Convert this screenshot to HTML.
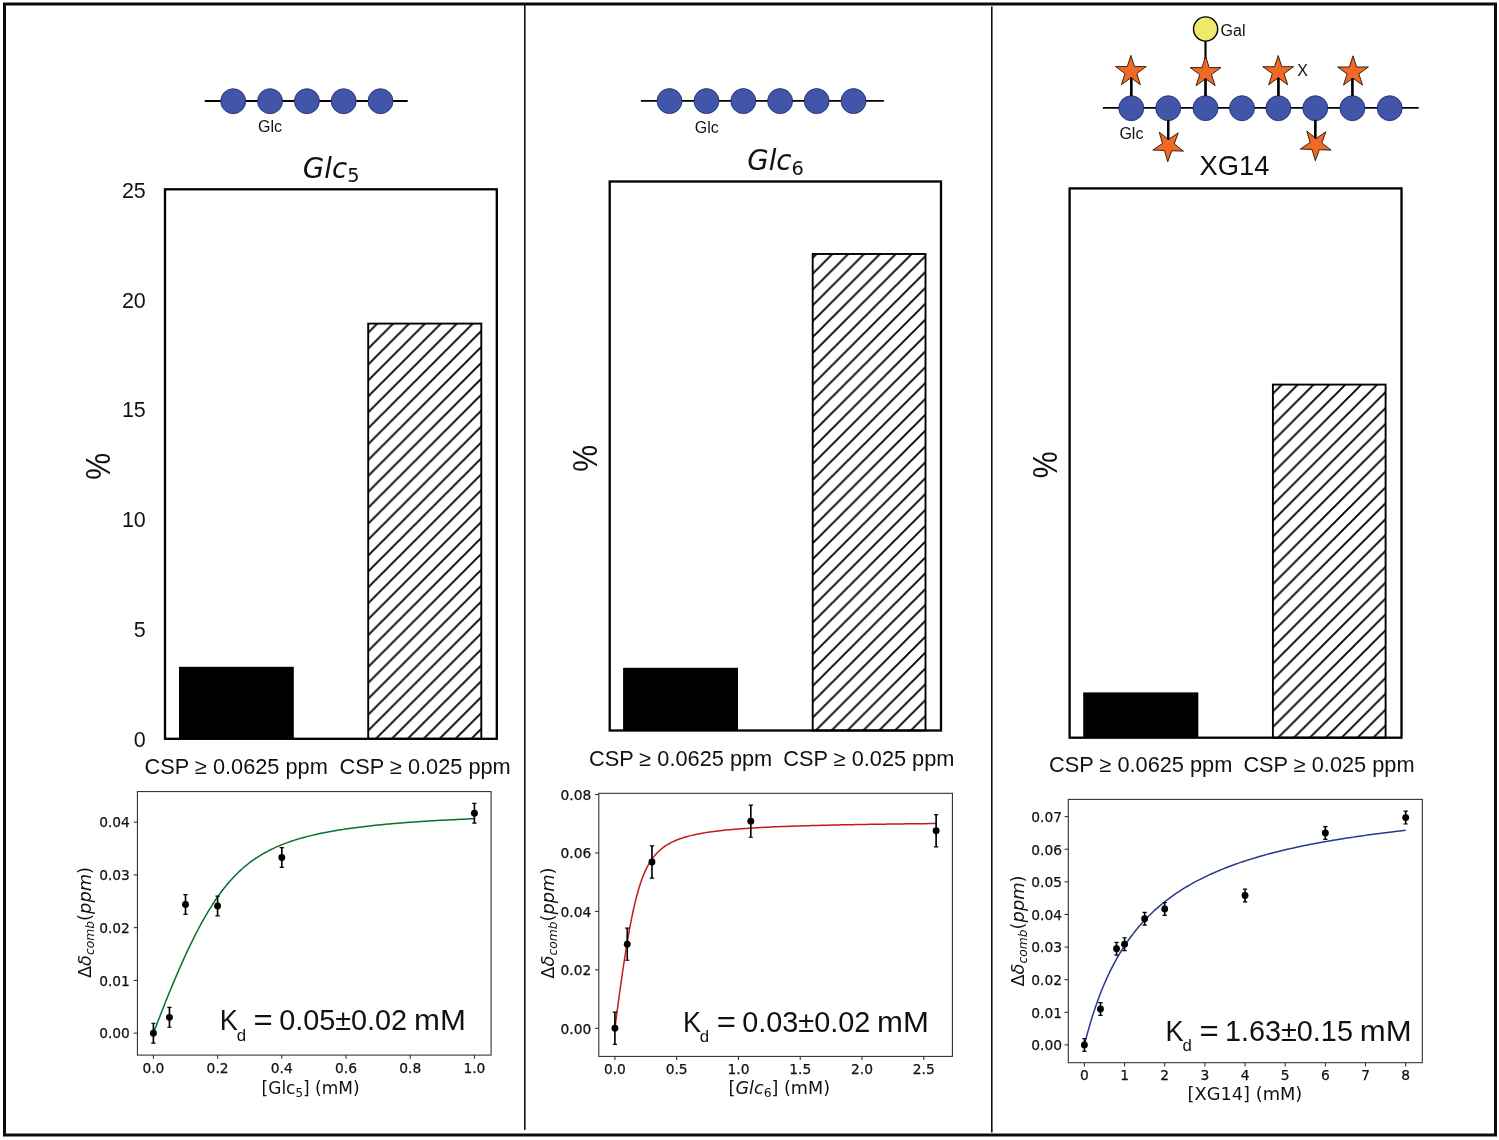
<!DOCTYPE html>
<html lang="en"><head><meta charset="utf-8"><title>Figure</title>
<style>
html,body{margin:0;padding:0;background:#fff;}
body{width:1499px;height:1140px;overflow:hidden;}
svg{display:block;will-change:transform;}
text{fill:#111;}
</style></head><body>
<svg width="1499" height="1140" viewBox="0 0 1499 1140">
<rect x="0" y="0" width="1499" height="1140" fill="#fff"/>
<defs>
<pattern id="h1" patternUnits="userSpaceOnUse" width="15.915" height="15.915" patternTransform="translate(0.64,0)"><path d="M-4,4 L4,-4 M-4,19.915 L19.915,-4 M11.915,19.915 L19.915,11.915" stroke="#000" stroke-width="1.9" fill="none"/></pattern>
<pattern id="h2" patternUnits="userSpaceOnUse" width="15.855" height="15.855" patternTransform="translate(8.26,0)"><path d="M-4,4 L4,-4 M-4,19.855 L19.855,-4 M11.855,19.855 L19.855,11.855" stroke="#000" stroke-width="1.9" fill="none"/></pattern>
<pattern id="h3" patternUnits="userSpaceOnUse" width="15.877" height="15.877" patternTransform="translate(15.292,0)"><path d="M-4,4 L4,-4 M-4,19.877 L19.877,-4 M11.877,19.877 L19.877,11.877" stroke="#000" stroke-width="1.9" fill="none"/></pattern>
</defs>

<rect x="4.5" y="4" width="1491" height="1131" fill="none" stroke="#0c0c0c" stroke-width="3"/>
<line x1="524.8" y1="5" x2="524.8" y2="1130" stroke="#111" stroke-width="1.6"/>
<line x1="991.8" y1="6.5" x2="991.8" y2="1132.5" stroke="#111" stroke-width="1.6"/>
<line x1="204.7" y1="101" x2="407.7" y2="101" stroke="#000" stroke-width="1.85"/>
<circle cx="233.2" cy="101.2" r="12.5" fill="#4156a9" stroke="#1b2767" stroke-width="0.8"/>
<circle cx="270.05" cy="101.2" r="12.5" fill="#4156a9" stroke="#1b2767" stroke-width="0.8"/>
<circle cx="306.9" cy="101.2" r="12.5" fill="#4156a9" stroke="#1b2767" stroke-width="0.8"/>
<circle cx="343.7" cy="101.2" r="12.5" fill="#4156a9" stroke="#1b2767" stroke-width="0.8"/>
<circle cx="380.5" cy="101.2" r="12.5" fill="#4156a9" stroke="#1b2767" stroke-width="0.8"/>
<text x="258.1" y="131.6" font-family='"Liberation Sans", Arial, Helvetica, sans-serif' font-size="16" text-anchor="start" >Glc</text>
<line x1="640.9" y1="100.8" x2="883.9" y2="100.8" stroke="#000" stroke-width="1.85"/>
<circle cx="669.5" cy="101.1" r="12.5" fill="#4156a9" stroke="#1b2767" stroke-width="0.8"/>
<circle cx="706.5" cy="101.1" r="12.5" fill="#4156a9" stroke="#1b2767" stroke-width="0.8"/>
<circle cx="743.3" cy="101.1" r="12.5" fill="#4156a9" stroke="#1b2767" stroke-width="0.8"/>
<circle cx="780.1" cy="101.1" r="12.5" fill="#4156a9" stroke="#1b2767" stroke-width="0.8"/>
<circle cx="816.7" cy="101.1" r="12.5" fill="#4156a9" stroke="#1b2767" stroke-width="0.8"/>
<circle cx="853.5" cy="101.1" r="12.5" fill="#4156a9" stroke="#1b2767" stroke-width="0.8"/>
<text x="694.7" y="132.5" font-family='"Liberation Sans", Arial, Helvetica, sans-serif' font-size="16" text-anchor="start" >Glc</text>
<line x1="1102.8" y1="107.8" x2="1418.7" y2="107.8" stroke="#000" stroke-width="1.85"/>
<line x1="1131.3" y1="74" x2="1131.3" y2="100" stroke="#000" stroke-width="2.2"/>
<line x1="1205.5" y1="74" x2="1205.5" y2="100" stroke="#000" stroke-width="2.2"/>
<line x1="1278.4" y1="74" x2="1278.4" y2="100" stroke="#000" stroke-width="2.2"/>
<line x1="1352.4" y1="74" x2="1352.4" y2="100" stroke="#000" stroke-width="2.2"/>
<line x1="1205.5" y1="40" x2="1205.5" y2="60" stroke="#000" stroke-width="2.2"/>
<line x1="1168.2" y1="116" x2="1168.2" y2="141" stroke="#000" stroke-width="2.2"/>
<line x1="1315.3" y1="116" x2="1315.3" y2="141" stroke="#000" stroke-width="2.2"/>
<circle cx="1131.3" cy="108.2" r="12.5" fill="#4156a9" stroke="#1b2767" stroke-width="0.8"/>
<circle cx="1168.2" cy="108.2" r="12.5" fill="#4156a9" stroke="#1b2767" stroke-width="0.8"/>
<circle cx="1205.5" cy="108.2" r="12.5" fill="#4156a9" stroke="#1b2767" stroke-width="0.8"/>
<circle cx="1242" cy="108.2" r="12.5" fill="#4156a9" stroke="#1b2767" stroke-width="0.8"/>
<circle cx="1278.4" cy="108.2" r="12.5" fill="#4156a9" stroke="#1b2767" stroke-width="0.8"/>
<circle cx="1315.3" cy="108.2" r="12.5" fill="#4156a9" stroke="#1b2767" stroke-width="0.8"/>
<circle cx="1352.4" cy="108.2" r="12.5" fill="#4156a9" stroke="#1b2767" stroke-width="0.8"/>
<circle cx="1389.7" cy="108.2" r="12.5" fill="#4156a9" stroke="#1b2767" stroke-width="0.8"/>
<polygon points="1130.9,55.4 1134.54,66.59 1146.31,66.59 1136.79,73.51 1140.42,84.71 1130.9,77.79 1121.38,84.71 1125.01,73.51 1115.49,66.59 1127.26,66.59" fill="#ee6a25" stroke="#2a1206" stroke-width="0.9" stroke-linejoin="miter"/>
<polygon points="1205.6,56.4 1209.24,67.59 1221.01,67.59 1211.49,74.51 1215.12,85.71 1205.6,78.79 1196.08,85.71 1199.71,74.51 1190.19,67.59 1201.96,67.59" fill="#ee6a25" stroke="#2a1206" stroke-width="0.9" stroke-linejoin="miter"/>
<polygon points="1278.2,55.5 1281.84,66.69 1293.61,66.69 1284.09,73.61 1287.72,84.81 1278.2,77.89 1268.68,84.81 1272.31,73.61 1262.79,66.69 1274.56,66.69" fill="#ee6a25" stroke="#2a1206" stroke-width="0.9" stroke-linejoin="miter"/>
<polygon points="1353,55.8 1356.64,66.99 1368.41,66.99 1358.89,73.91 1362.52,85.11 1353,78.19 1343.48,85.11 1347.11,73.91 1337.59,66.99 1349.36,66.99" fill="#ee6a25" stroke="#2a1206" stroke-width="0.9" stroke-linejoin="miter"/>
<polygon points="1167.73,161.79 1171.76,150.73 1183.52,151.14 1174.25,143.89 1178.27,132.83 1168.52,139.42 1159.24,132.17 1162.48,143.48 1152.73,150.07 1164.49,150.48" fill="#ee6a25" stroke="#2a1206" stroke-width="0.9" stroke-linejoin="miter"/>
<polygon points="1315.33,160.79 1319.36,149.73 1331.12,150.14 1321.85,142.89 1325.87,131.83 1316.12,138.42 1306.84,131.17 1310.08,142.48 1300.33,149.07 1312.09,149.48" fill="#ee6a25" stroke="#2a1206" stroke-width="0.9" stroke-linejoin="miter"/>
<line x1="1131.3" y1="77.6" x2="1131.3" y2="96" stroke="#000" stroke-width="2.2"/>
<line x1="1205.5" y1="78.6" x2="1205.5" y2="96" stroke="#000" stroke-width="2.2"/>
<line x1="1278.4" y1="77.7" x2="1278.4" y2="96" stroke="#000" stroke-width="2.2"/>
<line x1="1352.4" y1="78" x2="1352.4" y2="96" stroke="#000" stroke-width="2.2"/>
<line x1="1168.2" y1="120" x2="1168.2" y2="139.6" stroke="#000" stroke-width="2.2"/>
<line x1="1315.3" y1="120" x2="1315.3" y2="138.6" stroke="#000" stroke-width="2.2"/>
<circle cx="1205.6" cy="29" r="12.1" fill="#f0ea6c" stroke="#000" stroke-width="1.4"/>
<text x="1220.6" y="36.2" font-family='"Liberation Sans", Arial, Helvetica, sans-serif' font-size="16" text-anchor="start" >Gal</text>
<text x="1297.2" y="75.6" font-family='"Liberation Sans", Arial, Helvetica, sans-serif' font-size="16" text-anchor="start" >X</text>
<text x="1119.4" y="138.8" font-family='"Liberation Sans", Arial, Helvetica, sans-serif' font-size="16" text-anchor="start" >Glc</text>
<text x="302.8" y="177.6" font-family='"DejaVu Sans", "Liberation Sans", sans-serif' font-size="27.7" font-style="italic">Glc<tspan font-size="19.4" dy="4.3" font-style="normal">5</tspan></text>
<text x="747.2" y="170.2" font-family='"DejaVu Sans", "Liberation Sans", sans-serif' font-size="27.7" font-style="italic">Glc<tspan font-size="19.4" dy="4.3" font-style="normal">6</tspan></text>
<text x="1199.6" y="175.4" font-family='"Liberation Sans", Arial, Helvetica, sans-serif' font-size="27.3" text-anchor="start" >XG14</text>
<rect x="179" y="666.8" width="114.8" height="72" fill="#000"/>
<rect x="368.2" y="323.6" width="113.1" height="415.2" fill="url(#h1)" stroke="#000" stroke-width="1.9"/>
<rect x="165" y="189.3" width="331.8" height="549.5" fill="none" stroke="#000" stroke-width="2.3"/>
<rect x="623.1" y="667.8" width="114.9" height="62.7" fill="#000"/>
<rect x="812.7" y="254" width="112.8" height="476.5" fill="url(#h2)" stroke="#000" stroke-width="1.9"/>
<rect x="609.7" y="181.5" width="331.3" height="549" fill="none" stroke="#000" stroke-width="2.3"/>
<rect x="1083.2" y="692.4" width="115.1" height="45.3" fill="#000"/>
<rect x="1272.9" y="384.6" width="112.7" height="353.1" fill="url(#h3)" stroke="#000" stroke-width="1.9"/>
<rect x="1069.6" y="188.4" width="331.9" height="549.3" fill="none" stroke="#000" stroke-width="2.3"/>
<text x="145.8" y="747" font-family='"Liberation Sans", Arial, Helvetica, sans-serif' font-size="21.5" text-anchor="end" >0</text>
<text x="145.8" y="636.9" font-family='"Liberation Sans", Arial, Helvetica, sans-serif' font-size="21.5" text-anchor="end" >5</text>
<text x="145.8" y="526.7" font-family='"Liberation Sans", Arial, Helvetica, sans-serif' font-size="21.5" text-anchor="end" >10</text>
<text x="145.8" y="417.1" font-family='"Liberation Sans", Arial, Helvetica, sans-serif' font-size="21.5" text-anchor="end" >15</text>
<text x="145.8" y="307.7" font-family='"Liberation Sans", Arial, Helvetica, sans-serif' font-size="21.5" text-anchor="end" >20</text>
<text x="145.8" y="197.6" font-family='"Liberation Sans", Arial, Helvetica, sans-serif' font-size="21.5" text-anchor="end" >25</text>
<text transform="translate(109.6,466.3) rotate(-90) scale(0.86,1)" font-family='"Liberation Sans", Arial, Helvetica, sans-serif' font-size="35.2" text-anchor="middle">%</text>
<text transform="translate(597.2,458.3) rotate(-90) scale(0.86,1)" font-family='"Liberation Sans", Arial, Helvetica, sans-serif' font-size="35.2" text-anchor="middle">%</text>
<text transform="translate(1057.2,464.7) rotate(-90) scale(0.86,1)" font-family='"Liberation Sans", Arial, Helvetica, sans-serif' font-size="35.2" text-anchor="middle">%</text>
<text x="144.6" y="773.8" font-family='"Liberation Sans", Arial, Helvetica, sans-serif' font-size="21.75" text-anchor="start" >CSP ≥ 0.0625 ppm</text>
<text x="339.6" y="773.6" font-family='"Liberation Sans", Arial, Helvetica, sans-serif' font-size="21.75" text-anchor="start" >CSP ≥ 0.025 ppm</text>
<text x="589" y="765.6" font-family='"Liberation Sans", Arial, Helvetica, sans-serif' font-size="21.75" text-anchor="start" >CSP ≥ 0.0625 ppm</text>
<text x="783.3" y="765.6" font-family='"Liberation Sans", Arial, Helvetica, sans-serif' font-size="21.75" text-anchor="start" >CSP ≥ 0.025 ppm</text>
<text x="1049.1" y="772" font-family='"Liberation Sans", Arial, Helvetica, sans-serif' font-size="21.75" text-anchor="start" >CSP ≥ 0.0625 ppm</text>
<text x="1243.4" y="772.3" font-family='"Liberation Sans", Arial, Helvetica, sans-serif' font-size="21.75" text-anchor="start" >CSP ≥ 0.025 ppm</text>
<path d="M153.4,1033.15 L155.42,1027.86 L157.44,1022.6 L159.46,1017.4 L161.48,1012.23 L163.49,1007.12 L165.51,1002.06 L167.53,997.04 L169.55,992.09 L171.57,987.19 L173.59,982.35 L175.61,977.57 L177.63,972.86 L179.65,968.22 L181.66,963.65 L183.68,959.15 L185.7,954.73 L187.72,950.39 L189.74,946.13 L191.76,941.96 L193.78,937.87 L195.8,933.88 L197.82,929.97 L199.83,926.17 L201.85,922.45 L203.87,918.84 L205.89,915.32 L207.91,911.9 L209.93,908.59 L211.95,905.37 L213.97,902.26 L215.98,899.25 L218,896.34 L220.02,893.53 L222.04,890.82 L224.06,888.21 L226.08,885.69 L228.1,883.27 L230.12,880.94 L232.14,878.7 L234.15,876.55 L236.17,874.48 L238.19,872.5 L240.21,870.6 L242.23,868.77 L244.25,867.02 L246.27,865.34 L248.29,863.73 L250.31,862.18 L252.32,860.7 L254.34,859.28 L256.36,857.91 L258.38,856.61 L260.4,855.35 L262.42,854.15 L264.44,852.99 L266.46,851.88 L268.48,850.81 L270.49,849.79 L272.51,848.8 L274.53,847.85 L276.55,846.94 L278.57,846.07 L280.59,845.22 L282.61,844.41 L284.63,843.63 L286.65,842.87 L288.66,842.15 L290.68,841.44 L292.7,840.77 L294.72,840.12 L296.74,839.48 L298.76,838.88 L300.78,838.29 L302.8,837.72 L304.82,837.17 L306.83,836.63 L308.85,836.12 L310.87,835.62 L312.89,835.14 L314.91,834.67 L316.93,834.21 L318.95,833.77 L320.97,833.34 L322.98,832.93 L325,832.53 L327.02,832.14 L329.04,831.76 L331.06,831.39 L333.08,831.03 L335.1,830.68 L337.12,830.34 L339.14,830.01 L341.15,829.69 L343.17,829.37 L345.19,829.07 L347.21,828.77 L349.23,828.48 L351.25,828.2 L353.27,827.93 L355.29,827.66 L357.31,827.4 L359.32,827.14 L361.34,826.89 L363.36,826.65 L365.38,826.41 L367.4,826.18 L369.42,825.95 L371.44,825.73 L373.46,825.51 L375.48,825.3 L377.49,825.09 L379.51,824.89 L381.53,824.69 L383.55,824.5 L385.57,824.31 L387.59,824.12 L389.61,823.94 L391.63,823.76 L393.65,823.59 L395.66,823.42 L397.68,823.25 L399.7,823.09 L401.72,822.93 L403.74,822.77 L405.76,822.61 L407.78,822.46 L409.8,822.31 L411.82,822.17 L413.83,822.02 L415.85,821.88 L417.87,821.74 L419.89,821.61 L421.91,821.47 L423.93,821.34 L425.95,821.21 L427.97,821.09 L429.98,820.96 L432,820.84 L434.02,820.72 L436.04,820.6 L438.06,820.49 L440.08,820.37 L442.1,820.26 L444.12,820.15 L446.14,820.04 L448.15,819.94 L450.17,819.83 L452.19,819.73 L454.21,819.63 L456.23,819.53 L458.25,819.43 L460.27,819.33 L462.29,819.24 L464.31,819.14 L466.32,819.05 L468.34,818.96 L470.36,818.87 L472.38,818.78 L474.4,818.69" fill="none" stroke="#0b6f2d" stroke-width="1.5" stroke-linejoin="round"/>
<path d="M153.4,1023.25 V1043.05" stroke="#000" stroke-width="1.65" fill="none"/>
<path d="M151.25,1023.25 H155.55 M151.25,1043.05 H155.55" stroke="#000" stroke-width="1.2" fill="none"/>
<circle cx="153.4" cy="1033.15" r="3.45" fill="#000"/>
<path d="M169.45,1007.43 V1027.23" stroke="#000" stroke-width="1.65" fill="none"/>
<path d="M167.3,1007.43 H171.6 M167.3,1027.23 H171.6" stroke="#000" stroke-width="1.2" fill="none"/>
<circle cx="169.45" cy="1017.33" r="3.45" fill="#000"/>
<path d="M185.5,894.54 V914.34" stroke="#000" stroke-width="1.65" fill="none"/>
<path d="M183.35,894.54 H187.65 M183.35,914.34 H187.65" stroke="#000" stroke-width="1.2" fill="none"/>
<circle cx="185.5" cy="904.44" r="3.45" fill="#000"/>
<path d="M217.6,896.12 V915.92" stroke="#000" stroke-width="1.65" fill="none"/>
<path d="M215.45,896.12 H219.75 M215.45,915.92 H219.75" stroke="#000" stroke-width="1.2" fill="none"/>
<circle cx="217.6" cy="906.02" r="3.45" fill="#000"/>
<path d="M281.8,847.59 V867.39" stroke="#000" stroke-width="1.65" fill="none"/>
<path d="M279.65,847.59 H283.95 M279.65,867.39 H283.95" stroke="#000" stroke-width="1.2" fill="none"/>
<circle cx="281.8" cy="857.49" r="3.45" fill="#000"/>
<path d="M474.4,803.28 V823.08" stroke="#000" stroke-width="1.65" fill="none"/>
<path d="M472.25,803.28 H476.55 M472.25,823.08 H476.55" stroke="#000" stroke-width="1.2" fill="none"/>
<circle cx="474.4" cy="813.18" r="3.45" fill="#000"/>
<rect x="137.4" y="791.6" width="353.7" height="263.5" fill="none" stroke="#2a2a2a" stroke-width="1.05"/>
<line x1="153.4" y1="1055.1" x2="153.4" y2="1058.8" stroke="#2a2a2a" stroke-width="1.05"/>
<text x="153.4" y="1072.5" font-family='"DejaVu Sans", "Liberation Sans", sans-serif' font-size="13.8" text-anchor="middle" stroke="#111" stroke-width="0.25">0.0</text>
<line x1="217.6" y1="1055.1" x2="217.6" y2="1058.8" stroke="#2a2a2a" stroke-width="1.05"/>
<text x="217.6" y="1072.5" font-family='"DejaVu Sans", "Liberation Sans", sans-serif' font-size="13.8" text-anchor="middle" stroke="#111" stroke-width="0.25">0.2</text>
<line x1="281.8" y1="1055.1" x2="281.8" y2="1058.8" stroke="#2a2a2a" stroke-width="1.05"/>
<text x="281.8" y="1072.5" font-family='"DejaVu Sans", "Liberation Sans", sans-serif' font-size="13.8" text-anchor="middle" stroke="#111" stroke-width="0.25">0.4</text>
<line x1="346" y1="1055.1" x2="346" y2="1058.8" stroke="#2a2a2a" stroke-width="1.05"/>
<text x="346" y="1072.5" font-family='"DejaVu Sans", "Liberation Sans", sans-serif' font-size="13.8" text-anchor="middle" stroke="#111" stroke-width="0.25">0.6</text>
<line x1="410.2" y1="1055.1" x2="410.2" y2="1058.8" stroke="#2a2a2a" stroke-width="1.05"/>
<text x="410.2" y="1072.5" font-family='"DejaVu Sans", "Liberation Sans", sans-serif' font-size="13.8" text-anchor="middle" stroke="#111" stroke-width="0.25">0.8</text>
<line x1="474.4" y1="1055.1" x2="474.4" y2="1058.8" stroke="#2a2a2a" stroke-width="1.05"/>
<text x="474.4" y="1072.5" font-family='"DejaVu Sans", "Liberation Sans", sans-serif' font-size="13.8" text-anchor="middle" stroke="#111" stroke-width="0.25">1.0</text>
<line x1="133.7" y1="1033.15" x2="137.4" y2="1033.15" stroke="#2a2a2a" stroke-width="1.05"/>
<text x="129.9" y="1038.45" font-family='"DejaVu Sans", "Liberation Sans", sans-serif' font-size="13.8" text-anchor="end" stroke="#111" stroke-width="0.25">0.00</text>
<line x1="133.7" y1="980.4" x2="137.4" y2="980.4" stroke="#2a2a2a" stroke-width="1.05"/>
<text x="129.9" y="985.7" font-family='"DejaVu Sans", "Liberation Sans", sans-serif' font-size="13.8" text-anchor="end" stroke="#111" stroke-width="0.25">0.01</text>
<line x1="133.7" y1="927.65" x2="137.4" y2="927.65" stroke="#2a2a2a" stroke-width="1.05"/>
<text x="129.9" y="932.95" font-family='"DejaVu Sans", "Liberation Sans", sans-serif' font-size="13.8" text-anchor="end" stroke="#111" stroke-width="0.25">0.02</text>
<line x1="133.7" y1="874.9" x2="137.4" y2="874.9" stroke="#2a2a2a" stroke-width="1.05"/>
<text x="129.9" y="880.2" font-family='"DejaVu Sans", "Liberation Sans", sans-serif' font-size="13.8" text-anchor="end" stroke="#111" stroke-width="0.25">0.03</text>
<line x1="133.7" y1="822.15" x2="137.4" y2="822.15" stroke="#2a2a2a" stroke-width="1.05"/>
<text x="129.9" y="827.45" font-family='"DejaVu Sans", "Liberation Sans", sans-serif' font-size="13.8" text-anchor="end" stroke="#111" stroke-width="0.25">0.04</text>
<text transform="translate(91.4,922.5) rotate(-90)" font-family='"DejaVu Sans", "Liberation Sans", sans-serif' font-size="17.85" text-anchor="middle">Δ<tspan font-style="italic">δ</tspan><tspan font-style="italic" font-size="12.3" dy="3">comb</tspan><tspan dy="-3">(</tspan><tspan font-style="italic">ppm</tspan>)</text>
<path d="M614.9,1028.3 L616.92,1012.8 L618.94,997.74 L620.96,983.2 L622.98,969.26 L625,955.99 L627.02,943.48 L629.04,931.81 L631.06,921.04 L633.08,911.23 L635.1,902.37 L637.12,894.46 L639.14,887.45 L641.16,881.27 L643.18,875.86 L645.2,871.13 L647.23,866.98 L649.25,863.35 L651.27,860.17 L653.29,857.36 L655.31,854.88 L657.33,852.67 L659.35,850.71 L661.37,848.96 L663.39,847.38 L665.41,845.95 L667.43,844.66 L669.45,843.49 L671.47,842.42 L673.49,841.44 L675.51,840.55 L677.53,839.72 L679.55,838.95 L681.57,838.25 L683.59,837.59 L685.61,836.98 L687.63,836.41 L689.65,835.88 L691.67,835.38 L693.69,834.91 L695.71,834.47 L697.73,834.06 L699.75,833.67 L701.77,833.3 L703.79,832.95 L705.81,832.62 L707.83,832.3 L709.85,832.01 L711.88,831.72 L713.9,831.45 L715.92,831.2 L717.94,830.95 L719.96,830.72 L721.98,830.49 L724,830.28 L726.02,830.07 L728.04,829.87 L730.06,829.69 L732.08,829.5 L734.1,829.33 L736.12,829.16 L738.14,829 L740.16,828.84 L742.18,828.69 L744.2,828.55 L746.22,828.41 L748.24,828.28 L750.26,828.15 L752.28,828.02 L754.3,827.9 L756.32,827.78 L758.34,827.67 L760.36,827.55 L762.38,827.45 L764.4,827.34 L766.42,827.24 L768.44,827.14 L770.46,827.05 L772.48,826.96 L774.5,826.87 L776.53,826.78 L778.55,826.7 L780.57,826.61 L782.59,826.53 L784.61,826.45 L786.63,826.38 L788.65,826.3 L790.67,826.23 L792.69,826.16 L794.71,826.09 L796.73,826.02 L798.75,825.96 L800.77,825.89 L802.79,825.83 L804.81,825.77 L806.83,825.71 L808.85,825.65 L810.87,825.6 L812.89,825.54 L814.91,825.49 L816.93,825.43 L818.95,825.38 L820.97,825.33 L822.99,825.28 L825.01,825.23 L827.03,825.18 L829.05,825.14 L831.07,825.09 L833.09,825.05 L835.11,825 L837.13,824.96 L839.15,824.92 L841.18,824.87 L843.2,824.83 L845.22,824.79 L847.24,824.75 L849.26,824.72 L851.28,824.68 L853.3,824.64 L855.32,824.6 L857.34,824.57 L859.36,824.53 L861.38,824.5 L863.4,824.46 L865.42,824.43 L867.44,824.4 L869.46,824.37 L871.48,824.33 L873.5,824.3 L875.52,824.27 L877.54,824.24 L879.56,824.21 L881.58,824.18 L883.6,824.15 L885.62,824.13 L887.64,824.1 L889.66,824.07 L891.68,824.04 L893.7,824.02 L895.72,823.99 L897.74,823.97 L899.76,823.94 L901.78,823.92 L903.8,823.89 L905.83,823.87 L907.85,823.84 L909.87,823.82 L911.89,823.8 L913.91,823.77 L915.93,823.75 L917.95,823.73 L919.97,823.71 L921.99,823.69 L924.01,823.66 L926.03,823.64 L928.05,823.62 L930.07,823.6 L932.09,823.58 L934.11,823.56 L936.13,823.54" fill="none" stroke="#c5191c" stroke-width="1.5" stroke-linejoin="round"/>
<path d="M614.9,1012.2 V1044.4" stroke="#000" stroke-width="1.65" fill="none"/>
<path d="M612.75,1012.2 H617.05 M612.75,1044.4 H617.05" stroke="#000" stroke-width="1.2" fill="none"/>
<circle cx="614.9" cy="1028.3" r="3.45" fill="#000"/>
<path d="M627.25,928.05 V960.25" stroke="#000" stroke-width="1.65" fill="none"/>
<path d="M625.11,928.05 H629.4 M625.11,960.25 H629.4" stroke="#000" stroke-width="1.2" fill="none"/>
<circle cx="627.25" cy="944.15" r="3.45" fill="#000"/>
<path d="M651.96,845.94 V878.14" stroke="#000" stroke-width="1.65" fill="none"/>
<path d="M649.81,845.94 H654.11 M649.81,878.14 H654.11" stroke="#000" stroke-width="1.2" fill="none"/>
<circle cx="651.96" cy="862.04" r="3.45" fill="#000"/>
<path d="M750.8,805.03 V837.23" stroke="#000" stroke-width="1.65" fill="none"/>
<path d="M748.65,805.03 H752.95 M748.65,837.23 H752.95" stroke="#000" stroke-width="1.2" fill="none"/>
<circle cx="750.8" cy="821.13" r="3.45" fill="#000"/>
<path d="M936.13,814.67 V846.87" stroke="#000" stroke-width="1.65" fill="none"/>
<path d="M933.98,814.67 H938.28 M933.98,846.87 H938.28" stroke="#000" stroke-width="1.2" fill="none"/>
<circle cx="936.13" cy="830.77" r="3.45" fill="#000"/>
<rect x="598.8" y="793.3" width="353.6" height="263.1" fill="none" stroke="#2a2a2a" stroke-width="1.05"/>
<line x1="614.9" y1="1056.4" x2="614.9" y2="1060.1" stroke="#2a2a2a" stroke-width="1.05"/>
<text x="614.9" y="1073.9" font-family='"DejaVu Sans", "Liberation Sans", sans-serif' font-size="13.8" text-anchor="middle" stroke="#111" stroke-width="0.25">0.0</text>
<line x1="676.67" y1="1056.4" x2="676.67" y2="1060.1" stroke="#2a2a2a" stroke-width="1.05"/>
<text x="676.67" y="1073.9" font-family='"DejaVu Sans", "Liberation Sans", sans-serif' font-size="13.8" text-anchor="middle" stroke="#111" stroke-width="0.25">0.5</text>
<line x1="738.45" y1="1056.4" x2="738.45" y2="1060.1" stroke="#2a2a2a" stroke-width="1.05"/>
<text x="738.45" y="1073.9" font-family='"DejaVu Sans", "Liberation Sans", sans-serif' font-size="13.8" text-anchor="middle" stroke="#111" stroke-width="0.25">1.0</text>
<line x1="800.22" y1="1056.4" x2="800.22" y2="1060.1" stroke="#2a2a2a" stroke-width="1.05"/>
<text x="800.22" y="1073.9" font-family='"DejaVu Sans", "Liberation Sans", sans-serif' font-size="13.8" text-anchor="middle" stroke="#111" stroke-width="0.25">1.5</text>
<line x1="862" y1="1056.4" x2="862" y2="1060.1" stroke="#2a2a2a" stroke-width="1.05"/>
<text x="862" y="1073.9" font-family='"DejaVu Sans", "Liberation Sans", sans-serif' font-size="13.8" text-anchor="middle" stroke="#111" stroke-width="0.25">2.0</text>
<line x1="923.77" y1="1056.4" x2="923.77" y2="1060.1" stroke="#2a2a2a" stroke-width="1.05"/>
<text x="923.77" y="1073.9" font-family='"DejaVu Sans", "Liberation Sans", sans-serif' font-size="13.8" text-anchor="middle" stroke="#111" stroke-width="0.25">2.5</text>
<line x1="595.1" y1="1028.3" x2="598.8" y2="1028.3" stroke="#2a2a2a" stroke-width="1.05"/>
<text x="591.3" y="1033.6" font-family='"DejaVu Sans", "Liberation Sans", sans-serif' font-size="13.8" text-anchor="end" stroke="#111" stroke-width="0.25">0.00</text>
<line x1="595.1" y1="969.86" x2="598.8" y2="969.86" stroke="#2a2a2a" stroke-width="1.05"/>
<text x="591.3" y="975.16" font-family='"DejaVu Sans", "Liberation Sans", sans-serif' font-size="13.8" text-anchor="end" stroke="#111" stroke-width="0.25">0.02</text>
<line x1="595.1" y1="911.42" x2="598.8" y2="911.42" stroke="#2a2a2a" stroke-width="1.05"/>
<text x="591.3" y="916.72" font-family='"DejaVu Sans", "Liberation Sans", sans-serif' font-size="13.8" text-anchor="end" stroke="#111" stroke-width="0.25">0.04</text>
<line x1="595.1" y1="852.98" x2="598.8" y2="852.98" stroke="#2a2a2a" stroke-width="1.05"/>
<text x="591.3" y="858.28" font-family='"DejaVu Sans", "Liberation Sans", sans-serif' font-size="13.8" text-anchor="end" stroke="#111" stroke-width="0.25">0.06</text>
<line x1="595.1" y1="794.54" x2="598.8" y2="794.54" stroke="#2a2a2a" stroke-width="1.05"/>
<text x="591.3" y="799.84" font-family='"DejaVu Sans", "Liberation Sans", sans-serif' font-size="13.8" text-anchor="end" stroke="#111" stroke-width="0.25">0.08</text>
<text transform="translate(553.6,923.1) rotate(-90)" font-family='"DejaVu Sans", "Liberation Sans", sans-serif' font-size="17.85" text-anchor="middle">Δ<tspan font-style="italic">δ</tspan><tspan font-style="italic" font-size="12.3" dy="3">comb</tspan><tspan dy="-3">(</tspan><tspan font-style="italic">ppm</tspan>)</text>
<path d="M1084.4,1044.9 L1086.42,1037.04 L1088.44,1029.64 L1090.46,1022.67 L1092.48,1016.09 L1094.5,1009.87 L1096.52,1003.98 L1098.54,998.39 L1100.57,993.08 L1102.59,988.04 L1104.61,983.23 L1106.63,978.66 L1108.65,974.29 L1110.67,970.11 L1112.69,966.12 L1114.71,962.3 L1116.73,958.64 L1118.75,955.12 L1120.77,951.75 L1122.79,948.52 L1124.81,945.41 L1126.83,942.41 L1128.85,939.53 L1130.87,936.75 L1132.9,934.08 L1134.92,931.49 L1136.94,929 L1138.96,926.59 L1140.98,924.26 L1143,922.01 L1145.02,919.83 L1147.04,917.72 L1149.06,915.68 L1151.08,913.7 L1153.1,911.78 L1155.12,909.92 L1157.14,908.11 L1159.16,906.36 L1161.18,904.66 L1163.2,903 L1165.23,901.39 L1167.25,899.82 L1169.27,898.3 L1171.29,896.82 L1173.31,895.38 L1175.33,893.97 L1177.35,892.6 L1179.37,891.27 L1181.39,889.97 L1183.41,888.7 L1185.43,887.46 L1187.45,886.25 L1189.47,885.07 L1191.49,883.92 L1193.51,882.8 L1195.53,881.7 L1197.56,880.63 L1199.58,879.58 L1201.6,878.55 L1203.62,877.55 L1205.64,876.57 L1207.66,875.61 L1209.68,874.67 L1211.7,873.75 L1213.72,872.85 L1215.74,871.97 L1217.76,871.1 L1219.78,870.26 L1221.8,869.43 L1223.82,868.61 L1225.84,867.82 L1227.86,867.04 L1229.89,866.27 L1231.91,865.52 L1233.93,864.78 L1235.95,864.06 L1237.97,863.35 L1239.99,862.65 L1242.01,861.96 L1244.03,861.29 L1246.05,860.63 L1248.07,859.98 L1250.09,859.35 L1252.11,858.72 L1254.13,858.11 L1256.15,857.5 L1258.17,856.91 L1260.19,856.32 L1262.22,855.75 L1264.24,855.18 L1266.26,854.63 L1268.28,854.08 L1270.3,853.54 L1272.32,853.02 L1274.34,852.49 L1276.36,851.98 L1278.38,851.48 L1280.4,850.98 L1282.42,850.49 L1284.44,850.01 L1286.46,849.54 L1288.48,849.07 L1290.5,848.61 L1292.52,848.16 L1294.55,847.71 L1296.57,847.27 L1298.59,846.84 L1300.61,846.41 L1302.63,845.99 L1304.65,845.57 L1306.67,845.16 L1308.69,844.76 L1310.71,844.36 L1312.73,843.97 L1314.75,843.58 L1316.77,843.2 L1318.79,842.82 L1320.81,842.45 L1322.83,842.08 L1324.85,841.72 L1326.88,841.37 L1328.9,841.01 L1330.92,840.67 L1332.94,840.32 L1334.96,839.98 L1336.98,839.65 L1339,839.32 L1341.02,838.99 L1343.04,838.67 L1345.06,838.35 L1347.08,838.04 L1349.1,837.73 L1351.12,837.42 L1353.14,837.12 L1355.16,836.82 L1357.18,836.52 L1359.21,836.23 L1361.23,835.94 L1363.25,835.66 L1365.27,835.38 L1367.29,835.1 L1369.31,834.82 L1371.33,834.55 L1373.35,834.28 L1375.37,834.02 L1377.39,833.75 L1379.41,833.49 L1381.43,833.24 L1383.45,832.98 L1385.47,832.73 L1387.49,832.48 L1389.51,832.24 L1391.54,831.99 L1393.56,831.75 L1395.58,831.51 L1397.6,831.28 L1399.62,831.05 L1401.64,830.81 L1403.66,830.59 L1405.68,830.36" fill="none" stroke="#27388c" stroke-width="1.5" stroke-linejoin="round"/>
<path d="M1084.4,1038.5 V1051.3" stroke="#000" stroke-width="1.65" fill="none"/>
<path d="M1082.25,1038.5 H1086.55 M1082.25,1051.3 H1086.55" stroke="#000" stroke-width="1.2" fill="none"/>
<circle cx="1084.4" cy="1044.9" r="3.45" fill="#000"/>
<path d="M1100.46,1002.63 V1015.43" stroke="#000" stroke-width="1.65" fill="none"/>
<path d="M1098.31,1002.63 H1102.61 M1098.31,1015.43 H1102.61" stroke="#000" stroke-width="1.2" fill="none"/>
<circle cx="1100.46" cy="1009.03" r="3.45" fill="#000"/>
<path d="M1116.53,942.3 V955.1" stroke="#000" stroke-width="1.65" fill="none"/>
<path d="M1114.38,942.3 H1118.68 M1114.38,955.1 H1118.68" stroke="#000" stroke-width="1.2" fill="none"/>
<circle cx="1116.53" cy="948.7" r="3.45" fill="#000"/>
<path d="M1124.56,937.74 V950.54" stroke="#000" stroke-width="1.65" fill="none"/>
<path d="M1122.41,937.74 H1126.71 M1122.41,950.54 H1126.71" stroke="#000" stroke-width="1.2" fill="none"/>
<circle cx="1124.56" cy="944.14" r="3.45" fill="#000"/>
<path d="M1144.64,912.3 V925.1" stroke="#000" stroke-width="1.65" fill="none"/>
<path d="M1142.49,912.3 H1146.79 M1142.49,925.1 H1146.79" stroke="#000" stroke-width="1.2" fill="none"/>
<circle cx="1144.64" cy="918.7" r="3.45" fill="#000"/>
<path d="M1164.72,902.52 V915.32" stroke="#000" stroke-width="1.65" fill="none"/>
<path d="M1162.57,902.52 H1166.87 M1162.57,915.32 H1166.87" stroke="#000" stroke-width="1.2" fill="none"/>
<circle cx="1164.72" cy="908.92" r="3.45" fill="#000"/>
<path d="M1245.04,889.15 V901.95" stroke="#000" stroke-width="1.65" fill="none"/>
<path d="M1242.89,889.15 H1247.19 M1242.89,901.95 H1247.19" stroke="#000" stroke-width="1.2" fill="none"/>
<circle cx="1245.04" cy="895.55" r="3.45" fill="#000"/>
<path d="M1325.36,826.54 V839.34" stroke="#000" stroke-width="1.65" fill="none"/>
<path d="M1323.21,826.54 H1327.51 M1323.21,839.34 H1327.51" stroke="#000" stroke-width="1.2" fill="none"/>
<circle cx="1325.36" cy="832.94" r="3.45" fill="#000"/>
<path d="M1405.68,811.21 V824.01" stroke="#000" stroke-width="1.65" fill="none"/>
<path d="M1403.53,811.21 H1407.83 M1403.53,824.01 H1407.83" stroke="#000" stroke-width="1.2" fill="none"/>
<circle cx="1405.68" cy="817.61" r="3.45" fill="#000"/>
<rect x="1068.3" y="799.4" width="354" height="263.3" fill="none" stroke="#2a2a2a" stroke-width="1.05"/>
<line x1="1084.4" y1="1062.7" x2="1084.4" y2="1066.4" stroke="#2a2a2a" stroke-width="1.05"/>
<text x="1084.4" y="1080.1" font-family='"DejaVu Sans", "Liberation Sans", sans-serif' font-size="13.8" text-anchor="middle" stroke="#111" stroke-width="0.25">0</text>
<line x1="1124.56" y1="1062.7" x2="1124.56" y2="1066.4" stroke="#2a2a2a" stroke-width="1.05"/>
<text x="1124.56" y="1080.1" font-family='"DejaVu Sans", "Liberation Sans", sans-serif' font-size="13.8" text-anchor="middle" stroke="#111" stroke-width="0.25">1</text>
<line x1="1164.72" y1="1062.7" x2="1164.72" y2="1066.4" stroke="#2a2a2a" stroke-width="1.05"/>
<text x="1164.72" y="1080.1" font-family='"DejaVu Sans", "Liberation Sans", sans-serif' font-size="13.8" text-anchor="middle" stroke="#111" stroke-width="0.25">2</text>
<line x1="1204.88" y1="1062.7" x2="1204.88" y2="1066.4" stroke="#2a2a2a" stroke-width="1.05"/>
<text x="1204.88" y="1080.1" font-family='"DejaVu Sans", "Liberation Sans", sans-serif' font-size="13.8" text-anchor="middle" stroke="#111" stroke-width="0.25">3</text>
<line x1="1245.04" y1="1062.7" x2="1245.04" y2="1066.4" stroke="#2a2a2a" stroke-width="1.05"/>
<text x="1245.04" y="1080.1" font-family='"DejaVu Sans", "Liberation Sans", sans-serif' font-size="13.8" text-anchor="middle" stroke="#111" stroke-width="0.25">4</text>
<line x1="1285.2" y1="1062.7" x2="1285.2" y2="1066.4" stroke="#2a2a2a" stroke-width="1.05"/>
<text x="1285.2" y="1080.1" font-family='"DejaVu Sans", "Liberation Sans", sans-serif' font-size="13.8" text-anchor="middle" stroke="#111" stroke-width="0.25">5</text>
<line x1="1325.36" y1="1062.7" x2="1325.36" y2="1066.4" stroke="#2a2a2a" stroke-width="1.05"/>
<text x="1325.36" y="1080.1" font-family='"DejaVu Sans", "Liberation Sans", sans-serif' font-size="13.8" text-anchor="middle" stroke="#111" stroke-width="0.25">6</text>
<line x1="1365.52" y1="1062.7" x2="1365.52" y2="1066.4" stroke="#2a2a2a" stroke-width="1.05"/>
<text x="1365.52" y="1080.1" font-family='"DejaVu Sans", "Liberation Sans", sans-serif' font-size="13.8" text-anchor="middle" stroke="#111" stroke-width="0.25">7</text>
<line x1="1405.68" y1="1062.7" x2="1405.68" y2="1066.4" stroke="#2a2a2a" stroke-width="1.05"/>
<text x="1405.68" y="1080.1" font-family='"DejaVu Sans", "Liberation Sans", sans-serif' font-size="13.8" text-anchor="middle" stroke="#111" stroke-width="0.25">8</text>
<line x1="1064.6" y1="1044.9" x2="1068.3" y2="1044.9" stroke="#2a2a2a" stroke-width="1.05"/>
<text x="1062" y="1050.2" font-family='"DejaVu Sans", "Liberation Sans", sans-serif' font-size="13.8" text-anchor="end" stroke="#111" stroke-width="0.25">0.00</text>
<line x1="1064.6" y1="1012.29" x2="1068.3" y2="1012.29" stroke="#2a2a2a" stroke-width="1.05"/>
<text x="1062" y="1017.59" font-family='"DejaVu Sans", "Liberation Sans", sans-serif' font-size="13.8" text-anchor="end" stroke="#111" stroke-width="0.25">0.01</text>
<line x1="1064.6" y1="979.68" x2="1068.3" y2="979.68" stroke="#2a2a2a" stroke-width="1.05"/>
<text x="1062" y="984.98" font-family='"DejaVu Sans", "Liberation Sans", sans-serif' font-size="13.8" text-anchor="end" stroke="#111" stroke-width="0.25">0.02</text>
<line x1="1064.6" y1="947.07" x2="1068.3" y2="947.07" stroke="#2a2a2a" stroke-width="1.05"/>
<text x="1062" y="952.37" font-family='"DejaVu Sans", "Liberation Sans", sans-serif' font-size="13.8" text-anchor="end" stroke="#111" stroke-width="0.25">0.03</text>
<line x1="1064.6" y1="914.46" x2="1068.3" y2="914.46" stroke="#2a2a2a" stroke-width="1.05"/>
<text x="1062" y="919.76" font-family='"DejaVu Sans", "Liberation Sans", sans-serif' font-size="13.8" text-anchor="end" stroke="#111" stroke-width="0.25">0.04</text>
<line x1="1064.6" y1="881.85" x2="1068.3" y2="881.85" stroke="#2a2a2a" stroke-width="1.05"/>
<text x="1062" y="887.15" font-family='"DejaVu Sans", "Liberation Sans", sans-serif' font-size="13.8" text-anchor="end" stroke="#111" stroke-width="0.25">0.05</text>
<line x1="1064.6" y1="849.24" x2="1068.3" y2="849.24" stroke="#2a2a2a" stroke-width="1.05"/>
<text x="1062" y="854.54" font-family='"DejaVu Sans", "Liberation Sans", sans-serif' font-size="13.8" text-anchor="end" stroke="#111" stroke-width="0.25">0.06</text>
<line x1="1064.6" y1="816.63" x2="1068.3" y2="816.63" stroke="#2a2a2a" stroke-width="1.05"/>
<text x="1062" y="821.93" font-family='"DejaVu Sans", "Liberation Sans", sans-serif' font-size="13.8" text-anchor="end" stroke="#111" stroke-width="0.25">0.07</text>
<text transform="translate(1023.5,931) rotate(-90)" font-family='"DejaVu Sans", "Liberation Sans", sans-serif' font-size="17.85" text-anchor="middle">Δ<tspan font-style="italic">δ</tspan><tspan font-style="italic" font-size="12.3" dy="3">comb</tspan><tspan dy="-3">(</tspan><tspan font-style="italic">ppm</tspan>)</text>
<text x="261.6" y="1094" font-family='"DejaVu Sans", "Liberation Sans", sans-serif' font-size="17">[Glc<tspan font-size="11.9" dy="2.8">5</tspan><tspan dy="-2.8">] (mM)</tspan></text>
<text x="728.6" y="1093.7" font-family='"DejaVu Sans", "Liberation Sans", sans-serif' font-size="17.6">[<tspan font-style="italic">Glc</tspan><tspan font-size="12.3" dy="2.8">6</tspan><tspan dy="-2.8">] (mM)</tspan></text>
<text x="1187.6" y="1100.3" font-family='"DejaVu Sans", "Liberation Sans", sans-serif' font-size="17.8">[XG14] (mM)</text>
<text transform="translate(219.8,1030) scale(0.94,1)" font-family='"Liberation Sans", Arial, Helvetica, sans-serif' font-size="28.8">K</text>
<text transform="translate(236.7,1040.6) scale(1.0,1)" font-family='"Liberation Sans", Arial, Helvetica, sans-serif' font-size="16.8">d</text>
<text transform="translate(253.6,1030) scale(1.14,1)" font-family='"Liberation Sans", Arial, Helvetica, sans-serif' font-size="28.8">=</text>
<text transform="translate(279.2,1030) scale(1.0,1)" font-family='"Liberation Sans", Arial, Helvetica, sans-serif' font-size="28.8">0.05±0.02</text>
<text transform="translate(414,1030) scale(1.08,1)" font-family='"Liberation Sans", Arial, Helvetica, sans-serif' font-size="28.8">mM</text>
<text transform="translate(682.9,1031.5) scale(0.94,1)" font-family='"Liberation Sans", Arial, Helvetica, sans-serif' font-size="28.8">K</text>
<text transform="translate(699.8,1042.1) scale(1.0,1)" font-family='"Liberation Sans", Arial, Helvetica, sans-serif' font-size="16.8">d</text>
<text transform="translate(716.7,1031.5) scale(1.14,1)" font-family='"Liberation Sans", Arial, Helvetica, sans-serif' font-size="28.8">=</text>
<text transform="translate(742.3,1031.5) scale(1.0,1)" font-family='"Liberation Sans", Arial, Helvetica, sans-serif' font-size="28.8">0.03±0.02</text>
<text transform="translate(877.1,1031.5) scale(1.08,1)" font-family='"Liberation Sans", Arial, Helvetica, sans-serif' font-size="28.8">mM</text>
<text transform="translate(1165.6,1040.5) scale(0.94,1)" font-family='"Liberation Sans", Arial, Helvetica, sans-serif' font-size="28.8">K</text>
<text transform="translate(1182.5,1051.1) scale(1.0,1)" font-family='"Liberation Sans", Arial, Helvetica, sans-serif' font-size="16.8">d</text>
<text transform="translate(1199.4,1040.5) scale(1.14,1)" font-family='"Liberation Sans", Arial, Helvetica, sans-serif' font-size="28.8">=</text>
<text transform="translate(1225,1040.5) scale(1.0,1)" font-family='"Liberation Sans", Arial, Helvetica, sans-serif' font-size="28.8">1.63±0.15</text>
<text transform="translate(1359.8,1040.5) scale(1.08,1)" font-family='"Liberation Sans", Arial, Helvetica, sans-serif' font-size="28.8">mM</text>
</svg></body></html>
